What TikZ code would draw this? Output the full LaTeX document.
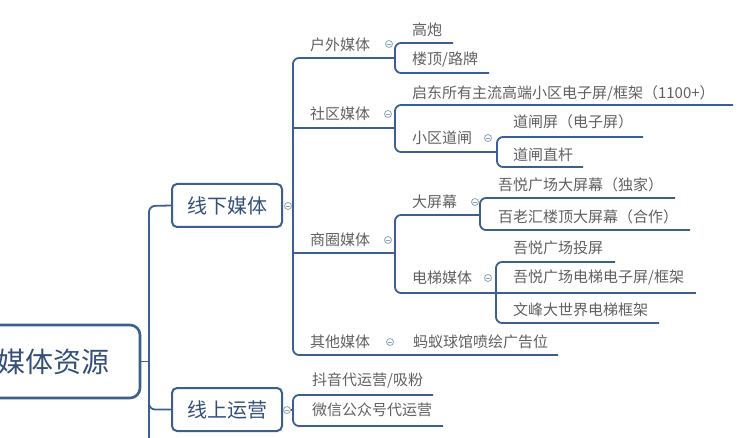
\documentclass[tikz,border=0pt]{standalone}
\usepackage{fontspec}
\newfontfamily\cjk{Noto Sans CJK SC}
\definecolor{lineblue}{HTML}{3B5F8E}
\definecolor{boxtext}{HTML}{34507A}
\definecolor{leaftext}{HTML}{606060}
\definecolor{btn}{HTML}{8CA3BC}
\tikzset{
  conn/.style={draw=lineblue, line width=1.8pt, rounded corners=6pt},
  rootbox/.style={draw=lineblue, line width=2.6pt, rounded corners=10pt, fill=white, font=\cjk\fontsize{28}{30}\selectfont, text=boxtext, minimum height=73pt, inner xsep=0pt},
  lvlbox/.style={draw=lineblue, line width=2pt, rounded corners=5pt, fill=white, font=\cjk\fontsize{20}{24}\selectfont, text=boxtext, minimum width=110pt, minimum height=43pt, inner sep=0pt},
  leaf/.style={anchor=west, inner sep=0pt, font=\cjk\fontsize{15}{18}\selectfont, text=leaftext},
  btnc/.style={circle, draw=btn, line width=0.8pt, minimum size=7pt, inner sep=0pt, fill=white,
    path picture={\draw[btn, line width=0.7pt] ([xshift=-2pt]path picture bounding box.center) -- ([xshift=2pt]path picture bounding box.center);}},
}
\begin{document}
\begin{tikzpicture}[x=1pt, y=-1pt]
\useasboundingbox (0,0) rectangle (738,438);

% root and level 1
\node[rootbox, minimum width=190pt] (root) at (45,361.5) {\hspace*{18pt}媒体资源};
\node[lvlbox] (lxm) at (227,205.5) {线下媒体};
\node[lvlbox] (xsy) at (227,409.5) {线上运营};
\node[btnc] (b-lxm) at (288,206) {};
\node[btnc] (b-xsy) at (287,410) {};

\coordinate (t1top) at (149,206);
\coordinate (t1mid) at (149,361.5);
\coordinate (t1bot) at (149,445);
\draw[conn] (lxm.west) -- (t1top) -- (t1bot);
\draw[conn] (root.east) -- (t1mid);
\draw[conn] (149,390) -- (149,409.5) -- (xsy.west);

% level 2 under 线下媒体
\node[leaf] (hw) at (310,45) {户外媒体};
\node[leaf] (sq) at (310,114) {社区媒体};
\node[leaf] (sqm) at (310,240) {商圈媒体};
\node[leaf] (qt) at (310,342) {其他媒体};
\node[btnc] (b-hw) at (389,44) {};
\node[btnc] (b-sq) at (388,114) {};
\node[btnc] (b-sqm) at (388,240) {};
\node[btnc] (b-qt) at (390,342) {};

\coordinate (v2top) at (293,58);
\coordinate (v2bot) at (293,355);
\coordinate (hw-end) at (395,58);
\coordinate (qt-end) at (558,355);
\draw[conn] (hw-end) -- (v2top) -- (v2bot) -- (qt-end);
\draw[conn] (293,128) -- (395,128);
\draw[conn] (293,253) -- (395,253);
\draw[conn] (b-lxm.east) -- (293,206);

\node[leaf] (myq) at (413,342) {蚂蚁球馆喷绘广告位};

% 户外媒体 children
\node[leaf] (gp) at (412,30) {高炮};
\node[leaf] (ld) at (412,60) {楼顶/路牌};
\draw[conn] (453,43) -- (395,43) -- (395,73) -- (489,73);

% 社区媒体 children
\node[leaf] (qd) at (412,93) {启东所有主流高端小区电子屏/框架（1100+）};
\node[leaf] (xq) at (412,138) {小区道闸};
\node[btnc] (b-xq) at (488,138) {};
\draw[conn] (733,105) -- (395,105) -- (395,152) -- (497,152);
\node[leaf] (dzp) at (513,122) {道闸屏（电子屏）};
\node[leaf] (dzg) at (513,155) {道闸直杆};
\draw[conn] (643,137) -- (497,137) -- (497,167) -- (583,167);

% 商圈媒体 children
\node[leaf] (dp) at (412,202) {大屏幕};
\node[leaf] (dt) at (412,278) {电梯媒体};
\node[btnc] (b-dp) at (475,202) {};
\node[btnc] (b-dt) at (488,278) {};
\draw[conn] (480,215) -- (395,215) -- (395,293) -- (497,293);
\node[leaf] (wy1) at (498,185) {吾悦广场大屏幕（独家）};
\node[leaf] (blh) at (498,217) {百老汇楼顶大屏幕（合作）};
\draw[conn] (675,198) -- (480,198) -- (480,230) -- (690,230);
\node[leaf] (wy2) at (513,248) {吾悦广场投屏};
\node[leaf] (wy3) at (513,278) {吾悦广场电梯电子屏/框架};
\node[leaf] (wf) at (513,310) {文峰大世界电梯框架};
\draw[conn] (615,262) -- (496,262) -- (496,323) -- (659,323);
\draw[conn] (496,293) -- (696,293);

% 线上运营 children
\node[leaf] (dy) at (312,380) {抖音代运营/吸粉};
\node[leaf] (wx) at (312,410) {微信公众号代运营};
\draw[conn] (433,395) -- (293,395) -- (293,426) -- (443,426);
\draw[conn] (b-xsy.east) -- (293,410);
\end{tikzpicture}
\end{document}
